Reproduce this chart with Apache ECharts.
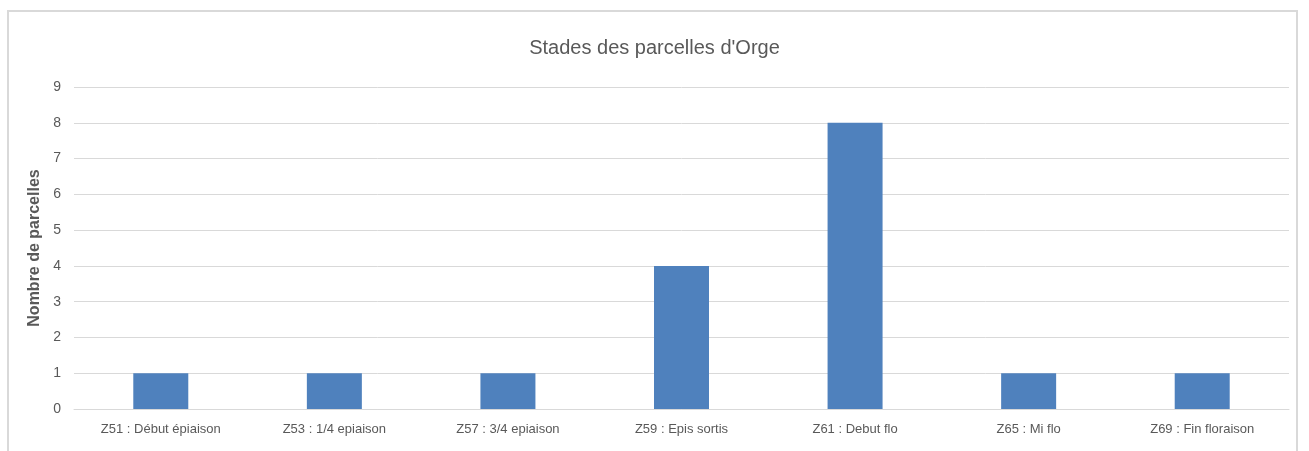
<!DOCTYPE html>
<html>
<head>
<meta charset="utf-8">
<script src="https://cdn.jsdelivr.net/npm/echarts@6/dist/echarts.min.js"></script>
<style>
  html, body { margin: 0; padding: 0; background: #fff; }
  #frame {
    position: absolute; left: 7px; top: 10px; width: 1291px; height: 460px;
    border: 2px solid #d9d9d9; box-sizing: border-box;
  }
  #chart { position: absolute; left: 0; top: 0; width: 1309px; height: 451px; }
</style>
</head>
<body>
<div id="frame"></div>
<div id="chart"></div>
<script>
const categories = ['Z51 : Début épiaison', 'Z53 : 1/4 epiaison', 'Z57 : 3/4 epiaison', 'Z59 : Epis sortis', 'Z61 : Debut flo', 'Z65 : Mi flo', 'Z69 : Fin floraison']
const values = [1, 1, 1, 4, 8, 1, 1]
const yTicks = { min: 0, max: 9, interval: 1 }

const font = 'Liberation Sans, sans-serif'
const myChart = echarts.init(document.getElementById('chart'))
const option = {
  animation: false,
  title: {
    text: "Stades des parcelles d'Orge",
    left: 'center',
    top: 33,
    textStyle: { color: '#595959', fontSize: 20, fontWeight: 'normal', fontFamily: font }
  },
  grid: { left: 74, right: 20, top: 87, bottom: 42 },
  xAxis: {
    type: 'category',
    data: categories,
    axisLine: { lineStyle: { color: '#d9d9d9', width: 1 } },
    axisTick: { show: false },
    axisLabel: { color: '#595959', fontSize: 13, fontFamily: font, margin: 14 }
  },
  yAxis: {
    type: 'value',
    min: yTicks.min,
    max: yTicks.max,
    interval: yTicks.interval,
    name: 'Nombre de parcelles',
    nameLocation: 'middle',
    nameGap: 24,
    nameTextStyle: { color: '#595959', fontSize: 16, fontWeight: 'bold', fontFamily: font },
    axisLine: { show: false },
    axisTick: { show: false },
    axisLabel: { color: '#595959', fontSize: 14, fontFamily: font, margin: 13 },
    splitLine: { lineStyle: { color: '#d9d9d9', width: 1 } }
  },
  series: [
    {
      type: 'bar',
      data: values,
      barWidth: 55,
      itemStyle: { color: '#4f81bd' }
    }
  ]
}
myChart.setOption(option)
</script>
</body>
</html>
